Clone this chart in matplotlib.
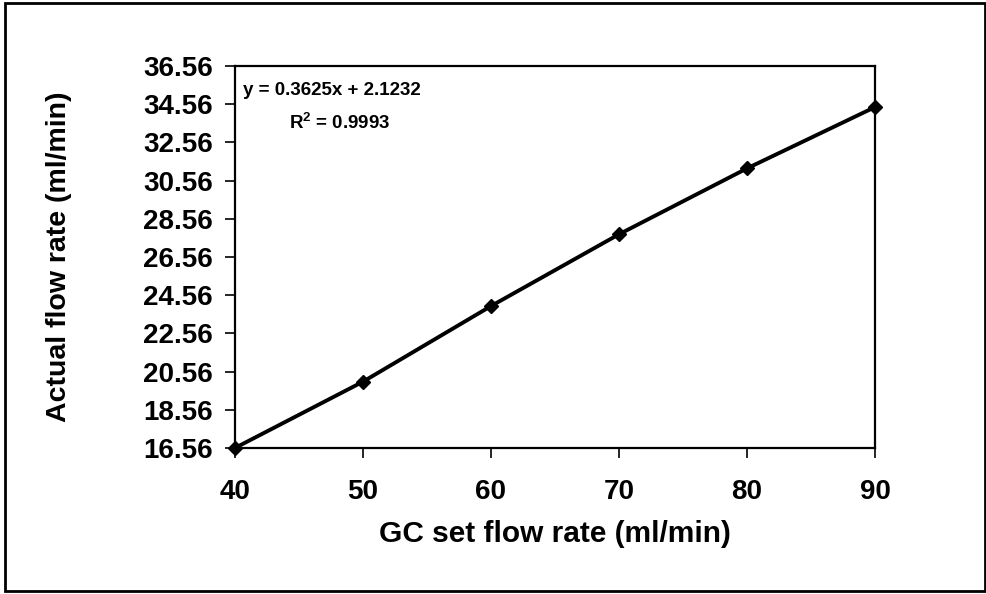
import matplotlib
matplotlib.use("Agg")
import matplotlib.pyplot as plt
from matplotlib.patches import Rectangle

plt.rcParams["font.family"] = ["Liberation Sans", "DejaVu Sans"]
plt.rcParams["font.weight"] = "bold"
plt.rcParams["mathtext.fontset"] = "custom"
plt.rcParams["mathtext.rm"] = "Liberation Sans:bold"
plt.rcParams["mathtext.it"] = "Liberation Sans:bold"
plt.rcParams["mathtext.bf"] = "Liberation Sans:bold"

# GC set flow vs measured flow
set_flow = [40, 50, 60, 70, 80, 90]
actual_flow = [16.56, 20.03, 23.99, 27.75, 31.20, 34.41]

x_ticks = [40, 50, 60, 70, 80, 90]
y_ticks = [16.56, 18.56, 20.56, 22.56, 24.56, 26.56, 28.56, 30.56, 32.56, 34.56, 36.56]
fit_text = "y = 0.3625x + 2.1232"
r2_text = "R$^{2}$ = 0.9993"

fig = plt.figure(figsize=(9.87, 5.94), dpi=100)
ax = fig.add_axes([0.238, 0.2458, 0.6485, 0.643])

ax.plot(set_flow, actual_flow, color="black", lw=2.8, marker="D",
        markersize=7.5, markerfacecolor="black", markeredgecolor="black",
        clip_on=False, zorder=3)

ax.set_xlim(40, 90)
ax.set_ylim(16.56, 36.56)
ax.set_xticks(x_ticks)
ax.set_yticks(y_ticks)
ax.set_xticklabels([str(v) for v in x_ticks])
ax.set_yticklabels([f"{v:.2f}" for v in y_ticks])

ax.tick_params(axis="both", direction="out", length=7, width=1.2,
               labelsize=20, color="black")
ax.tick_params(axis="x", pad=15)
ax.tick_params(axis="y", pad=9)
for lab in ax.get_xticklabels() + ax.get_yticklabels():
    lab.set_fontweight("bold")
for sp in ax.spines.values():
    sp.set_linewidth(1.6)
    sp.set_color("black")

ax.set_xlabel("GC set flow rate (ml/min)", fontsize=21.5, fontweight="bold",
              labelpad=11)
ax.set_ylabel("Actual flow rate (ml/min)", fontsize=20.5, fontweight="bold")
ax.yaxis.set_label_coords(-0.255, 0.5)

ax.text(0.013, 0.935, fit_text, transform=ax.transAxes, fontsize=13.5,
        fontweight="bold", ha="left", va="center")
ax.text(0.085, 0.85, r2_text, transform=ax.transAxes, fontsize=13.5,
        fontweight="bold", ha="left", va="center")

# outer frame around the whole chart
fig.patches.append(Rectangle((0.005, 0.005), 0.993, 0.99, transform=fig.transFigure,
                             fill=False, edgecolor="black", linewidth=2))

fig.savefig("out.png", dpi=100, facecolor="white")
